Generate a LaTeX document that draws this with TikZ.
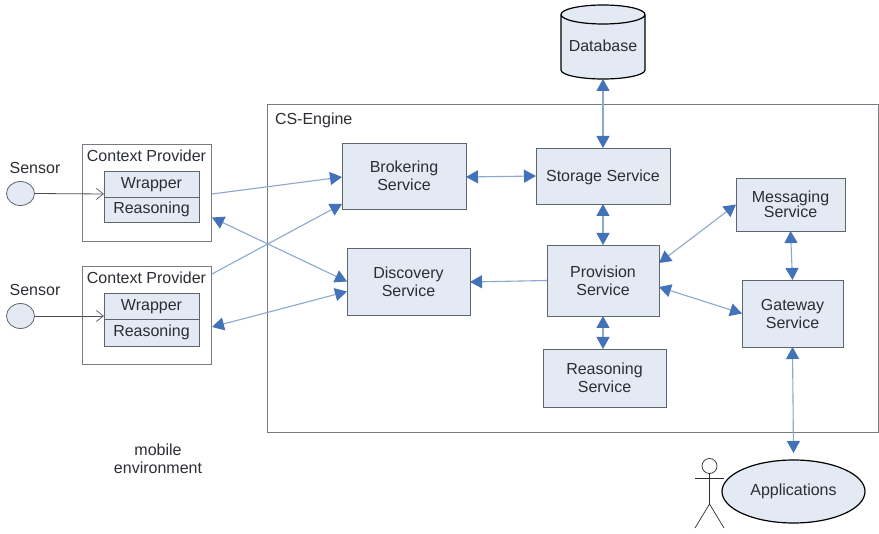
\documentclass[tikz,border=0pt]{standalone}
\usepackage{fontspec}
\setmainfont{Liberation Sans}
\usetikzlibrary{arrows.meta,shapes.geometric}
\definecolor{boxfill}{HTML}{E4EAF4}
\definecolor{edge}{HTML}{5F656D}
\definecolor{tipblue}{HTML}{4472B8}
\definecolor{lineblue}{HTML}{8CA8CF}
\definecolor{ink}{HTML}{2B2E33}
\tikzset{
  x=1pt,y=-1pt,
  every node/.style={inner sep=0pt,outer sep=0pt,text=ink,align=center,font=\fontsize{16}{18}\selectfont},
  whitebox/.style={draw=edge!85,line width=1pt,fill=white,rectangle},
  svc/.style={draw=edge,line width=.9pt,fill=boxfill,rectangle},
  part/.style={draw=edge,line width=.9pt,fill=boxfill,rectangle,minimum width=95pt},
  sensorshape/.style={ellipse,draw=edge,line width=.8pt,fill=boxfill,minimum width=28pt},
  bothways/.style={draw=lineblue,line width=1.1pt,
     {Triangle[length=12pt,width=13pt,color=tipblue]}-{Triangle[length=12pt,width=13pt,color=tipblue]}},
  oneway/.style={draw=lineblue,line width=1.1pt,-{Triangle[length=12pt,width=13pt,color=tipblue]}},
  feed/.style={draw=ink!85,line width=.8pt,-{Straight Barb[length=7pt,width=11pt,color=edge]}},
  stick/.style={draw=ink,line width=.7pt},
}
\begin{document}
\begin{tikzpicture}
\useasboundingbox (0,0) rectangle (879,534);
\fill[white] (0,0) rectangle (879,534);
% containers
\node[whitebox,minimum width=611pt,minimum height=328pt] (engine) at (572.5,269) {};
\node[anchor=west] (enginelabel) at (275,120) {CS-Engine};
\node[whitebox,minimum width=129pt,minimum height=97pt] (cpa) at (146.5,193.5) {};
\node[whitebox,minimum width=129pt,minimum height=98pt] (cpb) at (146.5,316) {};
\node (cpalabel) at (146.5,156) {Context Provider};
\node (cpblabel) at (146.5,278) {Context Provider};
% parts
\node[part,minimum height=26pt,text depth=1.4pt] (wa) at (151.5,184) {Wrapper};
\node[part,minimum height=25pt] (ra) at (151.5,209.5) {Reasoning};
\node[part,minimum height=26pt,text depth=1.4pt] (wb) at (151.5,306) {Wrapper};
\node[part,minimum height=27pt] (rb) at (151.5,332.5) {Reasoning};
% sensors
\node[sensorshape,minimum height=24pt] (sa) at (20.5,193.5) {};
\node[sensorshape,minimum height=25pt] (sb) at (20.5,316) {};
\node (salabel) at (35,168) {Sensor};
\node (sblabel) at (35,290) {Sensor};
% services
\node[svc,minimum width=124pt,minimum height=66pt] (brok) at (404,176) {Brokering\\Service};
\node[svc,minimum width=123pt,minimum height=67pt] (disc) at (408.5,281.5) {Discovery\\Service};
\node[svc,minimum width=134pt,minimum height=56pt] (stor) at (603,176) {};
\node (storlabel) at (603,177) {Storage Service};
\node[svc,minimum width=112pt,minimum height=71pt] (prov) at (603,280.5) {Provision\\Service};
\node[svc,minimum width=109pt,minimum height=53pt,font=\fontsize{16}{15.5}\selectfont] (msg) at (790.5,204.5) {Messaging\\Service};
\node[svc,minimum width=101pt,minimum height=67pt] (gate) at (792.5,313.5) {Gateway\\Service};
\node[svc,minimum width=123pt,minimum height=58pt] (reas) at (604.5,378) {Reasoning\\Service};
% database
\filldraw[fill=boxfill,draw=black,line width=1.2pt]
  (561,14.5) -- (561,70) arc[start angle=180,end angle=0,x radius=42,y radius=9]
  -- (645,14.5) arc[start angle=0,end angle=-180,x radius=42,y radius=9.5]
  arc[start angle=180,end angle=0,x radius=42,y radius=9.5];
\node[minimum width=84pt,minimum height=74pt] (db) at (603,42) {};
\node (dblabel) at (603,46) {Database};
% applications
\node[ellipse,draw=black,line width=1.2pt,fill=boxfill,minimum width=143pt,minimum height=63pt] (apps) at (793.5,491.5) {};
\node (appslabel) at (793.5,491.5) {Applications};
% actor
\node[circle,draw=ink,line width=.7pt,minimum size=15pt] (head) at (709.5,466) {};
\coordinate (hip) at (709.5,504);
\coordinate (arml) at (695,478);
\coordinate (armr) at (724,478);
\coordinate (footl) at (695,528);
\coordinate (footr) at (724,528);
\draw[stick] (head.south) -- (hip);
\draw[stick] (arml) -- (armr);
\draw[stick] (footl) -- (hip) -- (footr);
% mobile label
\node (mobile) at (158,459) {mobile\\environment};
% sensor feeds
\draw[feed] (sa.east) -- ([yshift=3pt]wa.south west);
\draw[feed] (sb.east) -- ([yshift=3pt]wb.south west);
% connectors
\draw[oneway] ([xshift=1pt,yshift=-0.5pt]cpa.east) -- ([yshift=-1pt]brok.west);
\draw[oneway] ([xshift=1pt,yshift=42pt]cpb.east) -- ([yshift=5pt]brok.south west);
\draw[bothways] ([xshift=1pt,yshift=-24pt]cpa.east) -- ([yshift=0pt]disc.west);
\draw[bothways] ([xshift=1pt,yshift=-11pt]cpb.east) -- ([yshift=-10pt]disc.west);
\draw[bothways] ([yshift=-1pt]brok.east) -- (stor.west);
\draw[bothways] (db.south) -- (stor.north);
\draw[bothways] (stor.south) -- (prov.north);
\draw[oneway] (prov.west) -- ([yshift=-0.5pt]disc.east);
\draw[bothways] (prov.south) -- ([xshift=-1.5pt]reas.north);
\draw[bothways] ([yshift=17.5pt]prov.east) -- (msg.west);
\draw[bothways] ([yshift=-6.5pt]prov.east) -- (gate.west);
\draw[bothways] (msg.south) -- (gate.north);
\draw[bothways] (gate.south) -- ([yshift=7pt]apps.north);
\end{tikzpicture}
\end{document}
